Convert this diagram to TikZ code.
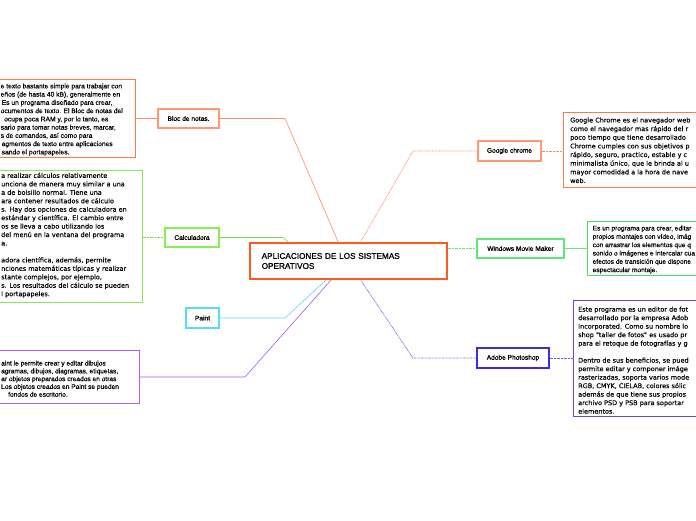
\documentclass[tikz,border=0pt]{standalone}
\usepackage{fontspec}
\setmainfont{Liberation Sans}[FakeBold=0.3]
\newfontfamily\dv{DejaVu Sans}[FakeBold=0.12]
\newfontfamily\lblf{Liberation Sans}[FakeBold=1.0]
\usetikzlibrary{shadows,calc}
\definecolor{cCenter}{HTML}{FF5A1E}
\definecolor{cSalmon}{HTML}{FF9A70}
\definecolor{cOrTxt}{HTML}{FF7A45}
\definecolor{cOrLine}{HTML}{FF8A5C}
\definecolor{cGrLbl}{HTML}{88EE55}
\definecolor{cGrTxt}{HTML}{88E850}
\definecolor{cGrLine}{HTML}{77DD44}
\definecolor{cCyan}{HTML}{55DDF5}
\definecolor{cPurple}{HTML}{B55CEE}
\definecolor{cPuLine}{HTML}{A855EE}
\definecolor{cWmm}{HTML}{5EE87A}
\definecolor{cWmmTxt}{HTML}{44E060}
\definecolor{cBlue}{HTML}{3A2BE8}
\definecolor{cBlTxt}{HTML}{5A4BEE}
\definecolor{cBlLine}{HTML}{6A5CF0}
\begin{document}
\begin{tikzpicture}[x=1pt,y=-1pt,
  lbl/.style={draw, line width=1.3pt, fill=white, inner sep=0pt,
    font=\lblf\fontsize{6.6}{8}\selectfont,
    drop shadow={shadow xshift=0.8pt, shadow yshift=-0.9pt, opacity=0.22, fill=black}},
  tbox/.style={draw, line width=0.9pt, fill=white, inner sep=0pt, anchor=north west},
  txtA/.style={anchor=north west, inner sep=0pt, align=left, font=\fontsize{6.7}{8.25}\selectfont},
  txtD/.style={anchor=north west, inner sep=0pt, align=left, font=\dv\fontsize{6.5}{8.45}\selectfont},
  conn/.style={line width=0.6pt},
  dotc/.style={line width=0.7pt, dash pattern=on 0.7pt off 0.7pt}
]
\useasboundingbox[fill=white] (0,0) rectangle (696,520);

% text boxes
\node[tbox, draw=cOrTxt, minimum width=140pt, minimum height=78pt] (blocT) at (-5,79) {};
\node[txtA] (blocX) at (0.5,83.3) {e texto bastante simple para trabajar con\\%
eños (de hasta 40 kB), generalmente en\\%
\hspace*{1pt}Es un programa diseñado para crear,\\%
ocumentos de texto. El Bloc de notas del\\%
\hspace*{3.5pt}ocupa poca RAM y, por lo tanto, es\\%
sario para tomar notas breves, marcar,\\%
s de comandos, así como para\\%
\hspace*{1pt}agmentos de texto entre aplicaciones\\%
\hspace*{1pt}sando el portapapeles.};

\node[tbox, draw=cGrTxt, minimum width=147pt, minimum height=132pt] (calcT) at (-5,170) {};
\node[txtD] (calcX) at (1,172.5) {a realizar cálculos relativamente\\%
unciona de manera muy similar a una\\%
a de bolsillo normal. Tiene una\\%
ara contener resultados de cálculo\\%
s. Hay dos opciones de calculadora en\\%
estándar y científica. El cambio entre\\%
os se lleva a cabo utilizando los\\%
del menú en la ventana del programa\\%
a.\\[8.45pt]%
adora científica, además, permite\\%
nciones matemáticas típicas y realizar\\%
stante complejos, por ejemplo,\\%
s. Los resultados del cálculo se pueden\\%
l portapapeles.};

\node[tbox, draw=cPurple, minimum width=144pt, minimum height=53pt] (paintT) at (-5,350) {};
\node[txtA, font=\fontsize{6.6}{7.8}\selectfont] (paintX) at (1,360.5) {aint le permite crear y editar dibujos\\%
agramas, dibujos, diagramas, etiquetas,\\%
ar objetos preparados creados en otras\\%
Los objetos creados en Paint se pueden\\%
\hspace*{7pt}fondos de escritorio.};

\node[tbox, draw=cOrTxt, minimum width=150pt, minimum height=75pt] (chromeT) at (563,112) {};
\node[txtD, font=\dv\fontsize{6.5}{8.65}\selectfont] (chromeX) at (570,117.3) {Google Chrome es el navegador web\\%
como el navegador mas rápido del r\\%
poco tiempo que tiene desarrollado\\%
Chrome cumples con sus objetivos p\\%
rápido, seguro, practico, estable y c\\%
minimalista único, que le brinda al u\\%
mayor comodidad a la hora de nave\\%
web.};

\node[tbox, draw=cWmmTxt, minimum width=130pt, minimum height=54pt] (wmmT) at (587,221) {};
\node[txtA, font=\fontsize{6.6}{8.33}\selectfont] (wmmX) at (592.5,225.5) {Es un programa para crear, editar\\%
propios montajes con vídeo, imág\\%
con arrastrar los elementos que q\\%
sonido o imágenes e intercalar cua\\%
efectos de transición que dispone\\%
espectacular montaje.};

\node[tbox, draw=cBlTxt, minimum width=140pt, minimum height=116pt] (adobeT) at (573,300) {};
\node[txtD, font=\dv\fontsize{6.5}{8.5}\selectfont] (adobeX) at (578,306.5) {Este programa es un editor de fot\\%
desarrollado por la empresa Adob\\%
Incorporated. Como su nombre lo\\%
shop "taller de fotos" es usado pr\\%
para el retoque de fotografías y g\\[8.5pt]%
Dentro de sus beneficios, se pued\\%
permite editar y componer imáge\\%
rasterizadas, soporta varios mode\\%
RGB, CMYK, CIELAB, colores sólic\\%
además de que tiene sus propios\\%
archivo PSD y PSB para soportar\\%
elementos.};

% central node
\node[draw=cCenter, line width=1.3pt, fill=white, minimum width=197pt, minimum height=36pt,
  inner xsep=11.7pt, text width=173.6pt, align=left,
  font=\lblf\fontsize{8.2}{10}\selectfont] (ctr) at (348.5,261) {APLICACIONES DE LOS SISTEMAS\\OPERATIVOS};

% label nodes
\node[lbl, draw=cSalmon, minimum width=61pt, minimum height=19pt] (bloc) at (188.5,118.5) {Bloc de notas.};
\node[lbl, draw=cGrLbl, minimum width=54pt, minimum height=19pt] (calc) at (192,237.5) {Calculadora};
\node[lbl, draw=cCyan, minimum width=33pt, minimum height=20pt] (paint) at (202.5,318) {Paint};
\node[lbl, draw=cSalmon, minimum width=63pt, minimum height=20pt] (chrome) at (509.5,151) {Google chrome};
\node[lbl, draw=cWmm, minimum width=87pt, minimum height=19pt] (wmm) at (520.5,248.5) {Windows Movie Maker};
\node[lbl, draw=cBlue, minimum width=72pt, minimum height=20pt] (adobe) at (513,358) {Adobe Photoshop};

% connectors
\draw[conn, cOrLine] ([xshift=89pt]ctr.north west) -- (285,118.5) -- (bloc.east);
\draw[conn, cOrLine] (bloc.west) -- (bloc.west -| blocT.east);
\draw[conn, cGrLine] ([xshift=39pt]ctr.north west) -- (283,237.5) -- (calc.east);
\draw[dotc, cGrLine] (calc.west) -- (calc.west -| calcT.east);
\draw[conn, cCyan] ([xshift=77pt]ctr.south west) -- (285,318) -- (paint.east);
\draw[conn, cPuLine] ([xshift=82pt]ctr.south west) -- (245,377) -- (paintT.east |- 0,377);
\draw[dotc, cOrLine] ([xshift=111pt]ctr.north west) -- (413,151) -- (chrome.west);
\draw[dotc, cOrLine] (chrome.east) -- (chrome.east -| chromeT.west);
\draw[dotc, cWmm] (wmm.west -| ctr.east) -- (wmm.west);
\draw[conn, cWmm] (wmm.east) -- (wmm.east -| wmmT.west);
\draw[dotc, cBlLine] ([xshift=111pt]ctr.south west) -- (413,358) -- (adobe.west);
\draw[dotc, cBlLine] (adobe.east) -- (adobe.east -| adobeT.west);
\end{tikzpicture}
\end{document}
